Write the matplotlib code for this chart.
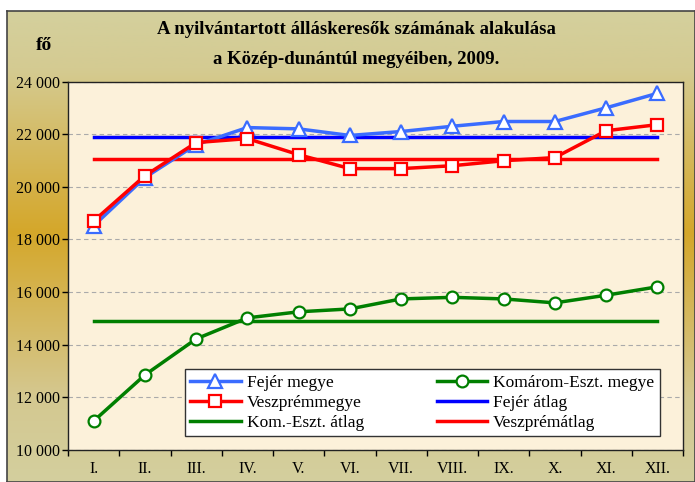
import numpy as np
import matplotlib
matplotlib.use("Agg")
import matplotlib.pyplot as plt
from matplotlib.colors import LinearSegmentedColormap
from matplotlib.ticker import FuncFormatter, MultipleLocator

months = ["I.", "II.", "III.", "IV.", "V.", "VI.", "VII.", "VIII.", "IX.", "X.", "XI.", "XII."]
fejer = [18520, 20350, 21600, 22250, 22200, 21950, 22100, 22300, 22480, 22480, 23000, 23550]
veszprem = [18700, 20420, 21680, 21830, 21220, 20690, 20690, 20800, 20990, 21110, 22130, 22360]
komarom = [11100, 12850, 14220, 15020, 15250, 15360, 15740, 15800, 15740, 15590, 15880, 16200]

plt.rcParams['font.family'] = ['Liberation Serif', 'DejaVu Serif']

fig = plt.figure(figsize=(6.95, 4.82), dpi=100)
fig.patch.set_facecolor('white')

# background panel with khaki / gold gradient
bg = fig.add_axes([7 / 695, 0, 1 - 7 / 695, 1 - 11 / 482], zorder=-10)
cmap = LinearSegmentedColormap.from_list(
    'bg', [(0, '#d4d09d'), (0.12, '#d4cb92'), (0.47, '#d5a72a'), (0.82, '#d4c890'), (1, '#d3cf9e')])
bg.imshow(np.linspace(0, 1, 256).reshape(-1, 1), aspect='auto', cmap=cmap,
          extent=[0, 1, 0, 1], origin='upper')
bg.set_xticks([])
bg.set_yticks([])
for s in bg.spines.values():
    s.set_color('#444444')
    s.set_linewidth(1.2)

ax = fig.add_axes([68 / 695, 1 - 450 / 482, 615 / 695, (450 - 81.5) / 482])
ax.set_facecolor('#fcf1da')

x = np.arange(len(months))
ax.grid(axis='y', color='#aaaaaa', linestyle=(0, (4, 3)), linewidth=0.8, zorder=0)

l_fejer, = ax.plot(x, fejer, color='#3a6cff', lw=2.5, marker='^', ms=10,
                   mfc='white', mec='#3a6cff', mew=1.6, zorder=5, label='Fejér megye')
l_kom, = ax.plot(x, komarom, color='#007f00', lw=2.5, marker='o', ms=8.5,
                 mfc='white', mec='#007f00', mew=1.6, zorder=5, label='Komárom-Eszt. megye')
l_vesz, = ax.plot(x, veszprem, color='#ff0000', lw=2.5, marker='s', ms=8.5,
                  mfc='white', mec='#ff0000', mew=1.6, zorder=6, label='Veszprémmegye')

avg_f, = ax.plot(x, [np.mean(fejer)] * len(x), color='#0000ff', lw=2.5, zorder=4, label='Fejér átlag')
avg_k, = ax.plot(x, [np.mean(komarom)] * len(x), color='#007f00', lw=2.5, zorder=4, label='Kom.-Eszt. átlag')
avg_v, = ax.plot(x, [np.mean(veszprem)] * len(x), color='#ff0000', lw=2.5, zorder=4, label='Veszprémátlag')

ax.set_xlim(-0.5, len(months) - 0.5)
ax.set_ylim(10000, 24000)
ax.yaxis.set_major_locator(MultipleLocator(2000))
ax.yaxis.set_major_formatter(FuncFormatter(lambda v, p: f"{int(v):,}".replace(",", " ")))
ax.set_xticks(x)
ax.set_xticklabels(months)
ax.set_xticks(np.arange(-0.5, len(months)), minor=True)
ax.tick_params(axis='x', which='major', length=0, pad=8, labelsize=11.5)
ax.tick_params(axis='x', which='minor', length=4, width=1, direction='out')
ax.tick_params(axis='y', length=4, width=1, direction='out', labelsize=11.5, pad=2)
for s in ax.spines.values():
    s.set_color('#222222')
    s.set_linewidth(1)

handles = [l_fejer, l_vesz, avg_k, l_kom, avg_f, avg_v]
leg = ax.legend(handles, [h.get_label() for h in handles],
                ncol=2, loc='lower left', bbox_to_anchor=(117 / 615, 14 / 368),
                fontsize=12.5, frameon=True, fancybox=False, handlelength=2.9,
                borderpad=0.3, labelspacing=0.22, handletextpad=0.35, columnspacing=4.2,
                borderaxespad=0)
leg.get_frame().set_edgecolor('#333333')
leg.get_frame().set_linewidth(1)
leg.get_frame().set_facecolor('white')
leg.get_frame().set_alpha(1)
leg.set_zorder(10)

fig.text(356 / 695, 1 - 30 / 482, "A nyilvántartott álláskeresők számának alakulása",
         ha='center', va='center', fontsize=13.5, fontweight='bold')
fig.text(356 / 695, 1 - 59 / 482, "a Közép-dunántúl megyéiben, 2009.",
         ha='center', va='center', fontsize=13.5, fontweight='bold')
fig.text(44 / 695, 1 - 45 / 482, "fő", ha='center', va='center', fontsize=14, fontweight='bold')

fig.savefig("out.png", dpi=100)
